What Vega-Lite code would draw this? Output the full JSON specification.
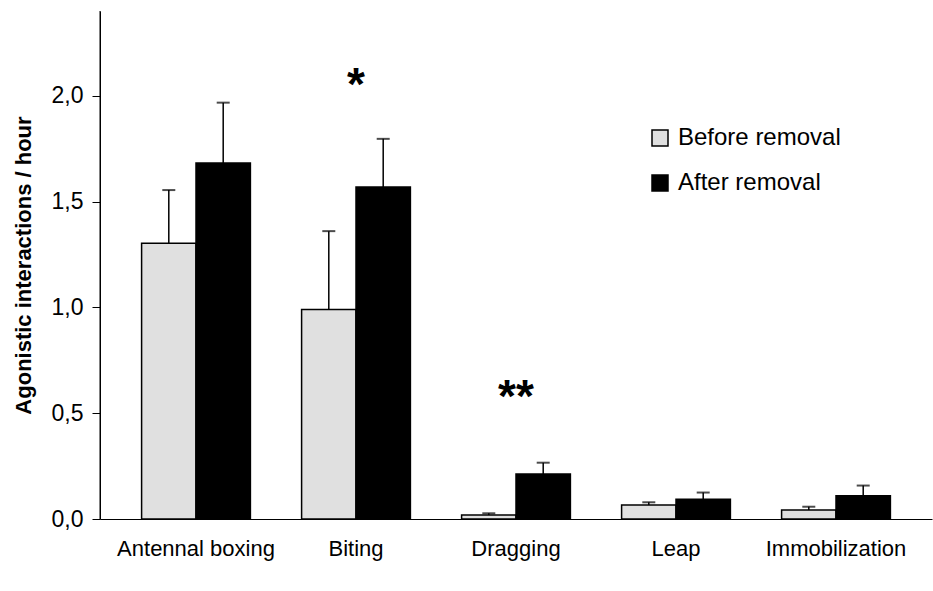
{
  "$schema": "https://vega.github.io/schema/vega-lite/v6.json",
  "width": 832,
  "height": 508,
  "autosize": "none",
  "padding": {"left": 100, "top": 11, "right": 1, "bottom": 72},
  "background": "white",
  "config": {
    "view": {"stroke": null},
    "font": "Liberation Sans",
    "axis": {"grid": false, "domainColor": "black", "domainWidth": 1, "labelFont": "Liberation Sans", "titleFont": "Liberation Sans", "labelColor": "black", "titleColor": "black"}
  },
  "datasets": {
    "bars": [
      {"behavior": "Antennal boxing", "period": "Before removal", "value": 1.303, "upper": 1.554},
      {"behavior": "Antennal boxing", "period": "After removal", "value": 1.682, "upper": 1.967},
      {"behavior": "Biting", "period": "Before removal", "value": 0.99, "upper": 1.36},
      {"behavior": "Biting", "period": "After removal", "value": 1.569, "upper": 1.796},
      {"behavior": "Dragging", "period": "Before removal", "value": 0.019, "upper": 0.027},
      {"behavior": "Dragging", "period": "After removal", "value": 0.213, "upper": 0.266},
      {"behavior": "Leap", "period": "Before removal", "value": 0.066, "upper": 0.079},
      {"behavior": "Leap", "period": "After removal", "value": 0.093, "upper": 0.125},
      {"behavior": "Immobilization", "period": "Before removal", "value": 0.043, "upper": 0.058},
      {"behavior": "Immobilization", "period": "After removal", "value": 0.11, "upper": 0.158}
    ],
    "stars": [
      {"behavior": "Biting", "label": "*", "value": 2.045, "shift": -9},
      {"behavior": "Dragging", "label": "**", "value": 0.57, "shift": -2}
    ],
    "frame": [{"top": 2.4}]
  },
  "encoding": {
    "x": {
      "field": "behavior", "type": "nominal",
      "sort": ["Antennal boxing", "Biting", "Dragging", "Leap", "Immobilization"],
      "scale": {"domain": ["Antennal boxing", "Biting", "Dragging", "Leap", "Immobilization"], "paddingInner": 0.32, "paddingOuter": 0.26},
      "axis": {
        "title": null, "labelAngle": 0, "ticks": false, "labelFontSize": 22, "labelPadding": 19, "labelBaseline": "top", "labelLimit": 300,
        "encode": {"labels": {"update": {"dx": {"signal": "[-20, -3, 4, 3, 12][indexof(['Antennal boxing', 'Biting', 'Dragging', 'Leap', 'Immobilization'], datum.value)]"}}}}
      }
    }
  },
  "layer": [
    {
      "data": {"name": "bars"},
      "mark": {"type": "rule", "color": "black", "strokeWidth": 1.5},
      "encoding": {
        "xOffset": {"field": "period", "type": "nominal", "sort": ["Before removal", "After removal"], "scale": {"paddingInner": 0, "paddingOuter": 0}},
        "y": {"field": "value", "type": "quantitative"},
        "y2": {"field": "upper"}
      }
    },
    {
      "data": {"name": "bars"},
      "mark": {"type": "tick", "color": "black", "thickness": 2, "size": 13, "orient": "horizontal"},
      "encoding": {
        "xOffset": {"field": "period", "type": "nominal", "sort": ["Before removal", "After removal"], "scale": {"paddingInner": 0, "paddingOuter": 0}},
        "y": {"field": "upper", "type": "quantitative"}
      }
    },
    {
      "data": {"name": "bars"},
      "mark": {"type": "bar", "stroke": "black", "strokeWidth": 1.5},
      "encoding": {
        "xOffset": {"field": "period", "type": "nominal", "sort": ["Before removal", "After removal"], "scale": {"paddingInner": 0, "paddingOuter": 0}},
        "y": {
          "field": "value", "type": "quantitative",
          "scale": {"domain": [0, 2.4], "nice": false, "zero": true},
          "axis": {
            "title": "Agonistic interactions / hour",
            "titleFontSize": 22, "titleFontWeight": "bold", "titlePadding": 16,
            "values": [0, 0.5, 1, 1.5, 2],
            "labelExpr": "replace(format(datum.value, '.1f'), '.', ',')",
            "labelFontSize": 23, "labelPadding": 9,
            "tickSize": 8, "tickColor": "black"
          }
        },
        "color": {
          "field": "period", "type": "nominal",
          "scale": {"domain": ["Before removal", "After removal"], "range": ["#e0e0e0", "#000000"]},
          "legend": {
            "title": null, "orient": "none", "legendX": 548, "legendY": 115, "padding": 0,
            "direction": "vertical",
            "symbolType": "square", "symbolSize": 256, "symbolStrokeColor": "black", "symbolStrokeWidth": 1.5,
            "symbolOpacity": 1,
            "labelFontSize": 24, "labelFont": "Liberation Sans", "labelColor": "black", "labelOffset": 6,
            "labelLimit": 400,
            "rowPadding": 21
          }
        }
      }
    },
    {
      "data": {"name": "stars"},
      "mark": {"type": "text", "fontSize": 46, "fontWeight": "bold", "baseline": "middle", "align": "center", "font": "Liberation Sans"},
      "encoding": {
        "y": {"field": "value", "type": "quantitative"},
        "text": {"field": "label"},
        "dx": {"field": "shift", "type": "quantitative", "scale": null}
      }
    },
    {
      "data": {"name": "frame"},
      "mark": {"type": "rule", "color": "black", "strokeWidth": 1},
      "encoding": {
        "y": {"field": "top", "type": "quantitative"}
      }
    }
  ]
}
